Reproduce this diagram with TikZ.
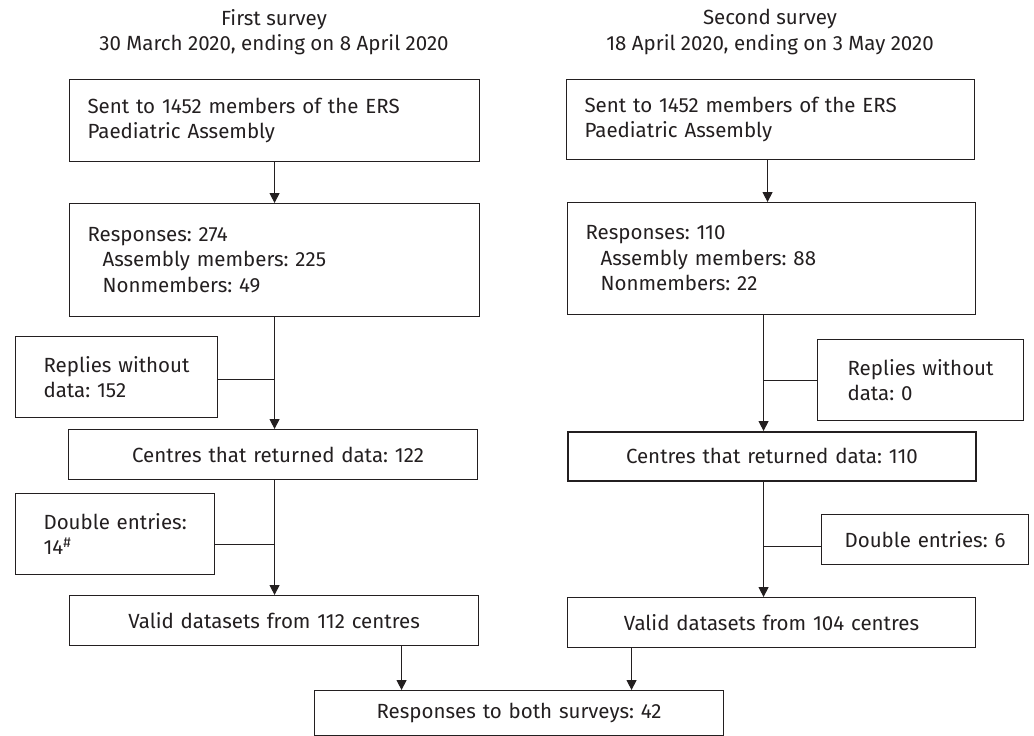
\documentclass[tikz,border=0pt]{standalone}
\usepackage{fontspec}
\setmainfont{Fira Sans}
\usetikzlibrary{arrows.meta}
\definecolor{ink}{RGB}{35,31,32}
\frenchspacing
\begin{document}
\begin{tikzpicture}[x=1pt,y=-1pt,
  every node/.style={text=ink,font=\fontsize{20.5}{25.5}\selectfont},
  box/.style={draw=ink,line width=1.1pt,anchor=north west,inner ysep=0pt,inner xsep=18pt,align=left},
  cbox/.style={draw=ink,line width=1.1pt,anchor=north west,inner ysep=0pt,inner xsep=6pt,align=center},
  link/.style={draw=ink,line width=1.1pt},
  arr/.style={link,-{Triangle[length=10pt,width=10pt]}},
  hdr/.style={align=center,inner sep=0pt}]
\useasboundingbox (0,0) rectangle (1034,736);
% headers
\node[hdr] (h1) at (274,32) {First survey\\30 March 2020, ending on 8 April 2020};
\node[hdr] (h2) at (770,32) {Second survey\\18 April 2020, ending on 3 May 2020};
% left column
\node[box,text width=374pt,minimum height=82pt] (L1) at (69,79) {Sent to 1452 members of the ERS\\Paediatric Assembly};
\node[box,text width=374pt,minimum height=113pt] (L2) at (69,203) {Responses: 274\\\hspace*{15pt}Assembly members: 225\\\hspace*{15pt}Nonmembers: 49};
\node[box,inner xsep=28pt,text width=146pt,minimum height=81pt] (LR) at (15,336) {\mbox{Replies without}\\data: 152};
\node[cbox,text width=397pt,minimum height=50pt] (LC) at (68,429) {\hspace*{10pt}Centres that returned data: 122};
\node[box,inner xsep=28pt,text width=143pt,minimum height=81pt] (LD) at (15,493) {\mbox{Double entries:}\\14\textsuperscript{\#}};
\node[cbox,text width=397pt,minimum height=50pt] (LV) at (69,595) {Valid datasets from 112 centres};
% right column
\node[box,text width=372pt,minimum height=80pt] (R1) at (566,79) {Sent to 1452 members of the ERS\\Paediatric Assembly};
\node[box,text width=372pt,minimum height=112pt] (R2) at (567,202) {Responses: 110\\\hspace*{15pt}Assembly members: 88\\\hspace*{15pt}Nonmembers: 22};
\node[box,inner xsep=30pt,text width=146pt,minimum height=81pt] (RR) at (817,339) {\mbox{Replies without}\\data: 0};
\node[cbox,line width=1.8pt,text width=396pt,minimum height=49pt] (RC) at (567,431) {Centres that returned data: 110};
\node[cbox,text width=195pt,minimum height=50pt] (RD) at (821,514) {Double entries: 6};
\node[cbox,text width=396pt,minimum height=50pt] (RV) at (567,597) {Valid datasets from 104 centres};
% final
\node[cbox,text width=397pt,minimum height=45pt] (F) at (314,690) {Responses to both surveys: 42};
% spine coordinates
\coordinate (ls) at (L2.south);
\coordinate (rs) at ([xshift=-8pt]R2.south);
% left connectors
\draw[arr] (L1.south) -- (L2.north);
\draw[arr] (ls) -- (ls |- LC.north);
\draw[link] ([yshift=-2.5pt]LR.east) -- ([yshift=-2.5pt]LR.east -| ls);
\draw[arr] (ls |- LC.south) -- (ls |- LV.north);
\draw[link] ([yshift=-10.5pt]LD.east) -- ([yshift=-10.5pt]LD.east -| ls);
% right connectors
\draw[arr] ([xshift=-3pt]R1.south) -- ([xshift=-3pt]R1.south |- R2.north);
\draw[arr] (rs) -- (rs |- RC.north);
\draw[link] (RR.west) -- (RR.west -| rs);
\draw[arr] (rs |- RC.south) -- (rs |- RV.north);
\draw[link] ([yshift=-7pt]RD.west) -- ([yshift=-7pt]RD.west -| rs);
% to final
\draw[arr] ([xshift=127.5pt]LV.south) -- ([xshift=127.5pt]LV.south |- F.north);
\draw[arr] ([xshift=-140pt]RV.south) -- ([xshift=-140pt]RV.south |- F.north);
\end{tikzpicture}
\end{document}
